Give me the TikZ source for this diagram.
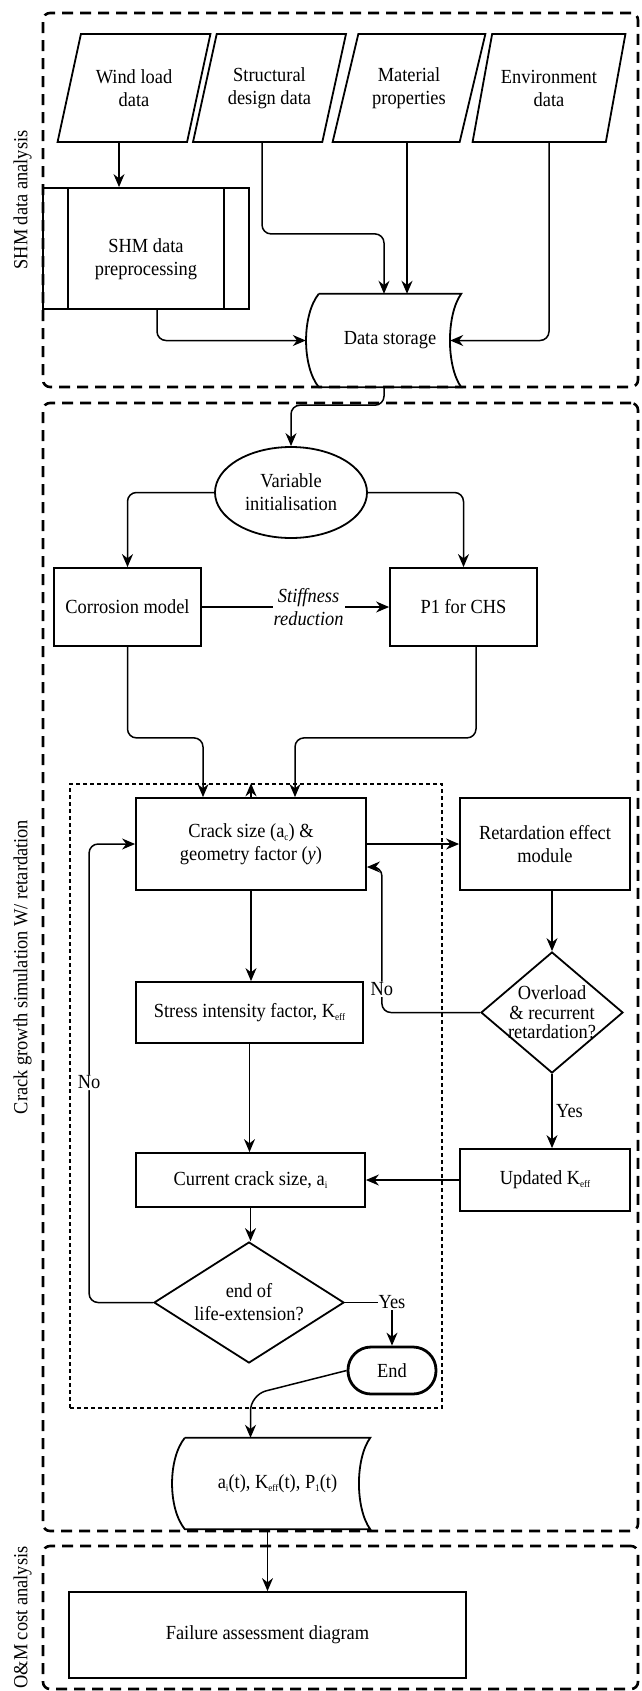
\documentclass[tikz,border=0pt]{standalone}
\usepackage{fontspec}
\setmainfont{Liberation Serif}[FakeStretch=0.92]
\usetikzlibrary{shapes.geometric,arrows.meta}
\newcommand{\flowfont}{\fontsize{20}{23}\selectfont}
\newcommand{\lowtx}[1]{\raisebox{-0.3ex}{\fontsize{10}{10}\selectfont #1}}
\newcommand{\drawstore}[1]{%
  \draw[shapeline] (#1.north west) -- (#1.north east)
    .. controls +(-15,21) and +(-15,-21) .. (#1.south east)
    -- (#1.south west)
    .. controls +(-17,-21) and +(-17,21) .. (#1.north west);}
\tikzset{
  shapeline/.style={line width=1.8pt},
  phase/.style={draw, line width=2.6pt, dash pattern=on 11pt off 7pt, rounded corners=7pt, inner sep=0pt},
  loopbox/.style={draw, line width=1.4pt, dash pattern=on 4pt off 3pt, inner sep=0pt},
  process/.style={draw, shapeline, inner sep=0pt, align=center},
  datain/.style={trapezium, trapezium left angle=65.6, trapezium right angle=114.4, trapezium stretches=true,
    draw, shapeline, inner sep=0pt, align=center, minimum width=153pt, minimum height=108pt},
  decision/.style={diamond, draw, shapeline, inner sep=0pt},
  terminal/.style={draw, line width=2.8pt, rounded corners=23pt, inner sep=0pt},
  storebox/.style={inner sep=0pt},
  arr/.style={-{Stealth[length=13pt,width=11pt]}, line width=1.5pt},
  tag/.style={fill=white, inner sep=1pt},
}
\begin{document}
\begin{tikzpicture}[x=1pt,y=-1pt,font=\flowfont]
\useasboundingbox (0,0) rectangle (642,1691);
\node[phase, minimum width=595pt, minimum height=374pt] (ph1) at (340.5,200) {};
\node[phase, minimum width=595pt, minimum height=1128pt] (ph2) at (340.5,967) {};
\node[phase, minimum width=595pt, minimum height=143pt] (ph3) at (340.5,1617.5) {};
\node[rotate=90] (lblshm) at ([xshift=-19pt]ph1.west) {SHM data analysis};
\node[rotate=90] (lblcrack) at ([xshift=-19pt]ph2.west) {Crack growth simulation W/ retardation};
\node[rotate=90] (lblcost) at ([xshift=-19pt]ph3.west) {O\&M cost analysis};

\node[datain] (wind) at (134,88) {Wind load\\data};
\node[datain] (struct) at (269.5,88) {Structural\\design data};
\node[datain] (mater) at (409,88) {Material\\properties};
\node[datain] (envir) at (549,88) {Environment\\data};
\node[process, minimum width=206pt, minimum height=121pt,
  label={[align=center, yshift=-11pt]center:SHM data\\preprocessing}] (shmpre) at (146,248.5) {};
\draw[shapeline] ([xshift=26pt]shmpre.north west) -- ([xshift=26pt]shmpre.south west);
\draw[shapeline] ([xshift=-26pt]shmpre.north east) -- ([xshift=-26pt]shmpre.south east);
\node[storebox, minimum width=142pt, minimum height=93pt] (store) at (390,340.5) {Data storage};
\drawstore{store}

\node[ellipse, draw, shapeline, inner sep=0pt, align=center, minimum width=152pt, minimum height=91pt] (init) at (291,492.5) {Variable\\initialisation};
\node[process, minimum width=147pt, minimum height=78pt] (corr) at (127.5,607) {Corrosion model};
\node[process, minimum width=147pt, minimum height=78pt] (p1) at (463.5,607) {P1 for CHS};
\node[loopbox, minimum width=372pt, minimum height=624pt] (loop) at (256,1096) {};
\node[process, minimum width=230pt, minimum height=92pt] (crack) at (251,844) {Crack size (a\lowtx{c}) \&\\geometry factor (\textit{y})};
\node[process, minimum width=170pt, minimum height=92pt] (retard) at (545,844) {Retardation effect\\module};
\node[process, minimum width=227pt, minimum height=61pt] (stress) at (249.5,1012.5) {Stress intensity factor, K\lowtx{eff}};
\node[decision, minimum width=142pt, minimum height=121pt,
  label={[align=center, font=\fontsize{20}{19.5}\selectfont]center:Overload\\\& recurrent\\retardation?}] (over) at (552,1012.5) {};
\node[process, minimum width=170pt, minimum height=62pt] (upd) at (545,1180) {Updated K\lowtx{eff}};
\node[process, minimum width=229pt, minimum height=54pt] (cur) at (250.5,1180) {Current crack size, a\lowtx{i}};
\node[decision, minimum width=190pt, minimum height=121pt,
  label={[align=center]center:end of\\life-extension?}] (endq) at (249,1302.5) {};
\node[terminal, minimum width=88pt, minimum height=47pt] (endn) at (392,1370.5) {End};
\node[storebox, minimum width=185pt, minimum height=91pt] (store2) at (277.5,1483.5) {a\lowtx{i}(t), K\lowtx{eff}(t), P\lowtx{1}(t)};
\drawstore{store2}
\node[process, minimum width=397pt, minimum height=86pt] (fad) at (267.5,1635) {Failure assessment diagram};

\draw[arr] ([xshift=-15pt]wind.south) -- ([xshift=-15pt]wind.south |- shmpre.north);
\draw[arr, rounded corners=9pt] ([xshift=-7.5pt]struct.south) -- ++(0,91) -| ([xshift=-6pt]store.north);
\draw[arr] ([xshift=-2pt]mater.south) -- ([xshift=-2pt]mater.south |- store.north);
\draw[arr, rounded corners=9pt] (envir.south) |- ([xshift=-11pt]store.east);
\draw[arr, rounded corners=9pt] ([xshift=11pt]shmpre.south) |- ([xshift=-13pt]store.west);
\draw[arr, rounded corners=9pt] ([xshift=-6pt]store.south) -- ++(0,18) -| (init.north);
\draw[arr, rounded corners=9pt] (init.west) -| (corr.north);
\draw[arr, rounded corners=9pt] (init.east) -| (p1.north);
\draw[arr] (corr.east) -- node[pos=0.57, tag, align=center, font=\flowfont\itshape] {Stiffness\\reduction} (p1.west);
\draw[arr, rounded corners=9pt] (corr.south) -- ++(0,91) -| ([xshift=-48pt]crack.north);
\draw[arr, rounded corners=9pt] ([xshift=12.5pt]p1.south) -- ++(0,91) -| ([xshift=44pt]crack.north);
\draw[arr] (crack.north) -- (crack.north |- loop.north);
\draw[arr] (crack.east) -- (retard.west);
\draw[arr] (crack.south) -- (crack.south |- stress.north);
\draw[arr] (over.north |- retard.south) -- (over.north);
\draw[arr, rounded corners=9pt] (over.west) -| node[pos=0.58, tag] {No} ([xshift=15pt,yshift=-23pt]crack.east) -- ([yshift=-23pt]crack.east);
\draw[arr] (over.south) -- node[right] {Yes} (over.south |- upd.north);
\draw[arr] (upd.west) -- (cur.east);
\draw[arr] (stress.south) -- (stress.south |- cur.north);
\draw[arr] (cur.south) -- (cur.south |- endq.north);
\draw[arr, rounded corners=9pt] (endq.west) -| node[pos=0.74, tag] {No} ([xshift=-46pt]crack.west) -- (crack.west);
\draw[arr] (endq.east) -| node[pos=0.5, tag] {Yes} (endn.north);
\draw[arr, rounded corners=16pt] (endn.west) -- ([xshift=-27pt,yshift=43pt]store2.north) -- ([xshift=-27pt]store2.north);
\draw[arr] (fad.north |- store2.south) -- (fad.north);
\end{tikzpicture}
\end{document}
